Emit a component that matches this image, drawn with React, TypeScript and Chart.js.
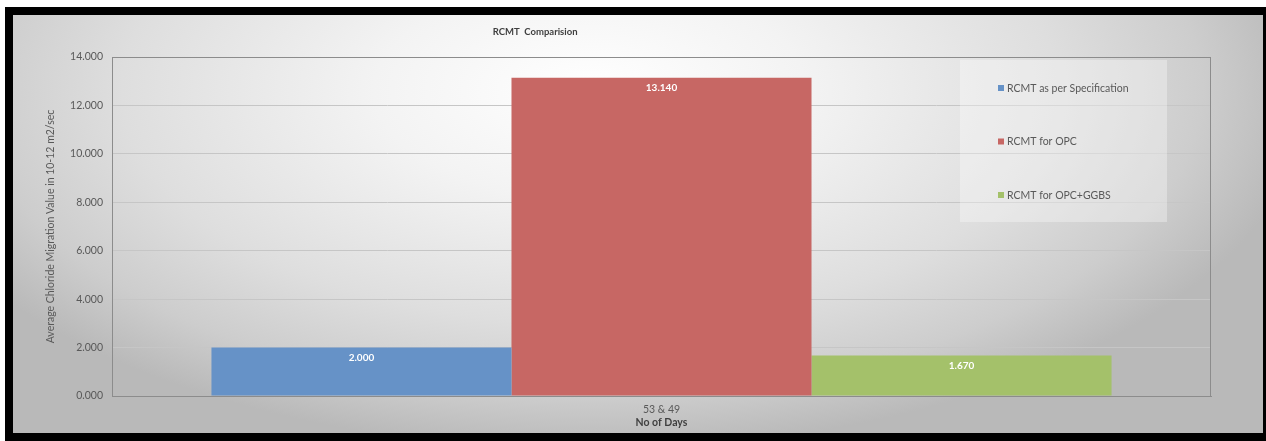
import React, { useEffect, useRef } from "react";
import { Chart, registerables } from "chart.js";

Chart.register(...registerables);

// Chart content
const chartTitle = "RCMT  Comparision";
const categories = ["53 & 49"];
const seriesNames = ["RCMT as per Specification", "RCMT for OPC", "RCMT for OPC+GGBS"];
const specValues = [2.0];
const opcValues = [13.14];
const opcGgbsValues = [1.67];
const seriesColors = ["#6692c7", "#c76764", "#a4c16a"];
const yTitle = "Average Chloride Migration Value in 10-12 m2/sec";
const xTitle = "No of Days";
const yMin = 0;
const yMax = 14;
const yStep = 2;

const FONT = "Lato, 'Open Sans', sans-serif";
const TEXT_GRAY = "#595959";
const DARK_TEXT = "#3f3f3f";
const AXIS_GRAY = "#8c8c8c";
const GRID_GRAY = "#c6c6c6";

const W = 1266;
const H = 441;

// Frame, gradient backdrop, plot border and title
const backdropPlugin = {
  id: "backdrop",
  beforeDraw(chart: any) {
    const { ctx } = chart;
    ctx.save();
    ctx.fillStyle = "#ffffff";
    ctx.fillRect(0, 0, W, H);
    ctx.fillStyle = "#000000";
    ctx.fillRect(5, 7, W - 5, H - 7);

    const ix = 13, iy = 15, iw = 1250, ih = 418;
    ctx.beginPath();
    ctx.rect(ix, iy, iw, ih);
    ctx.clip();
    ctx.translate(590, 90);
    ctx.scale(1, 0.5);
    const g = ctx.createRadialGradient(0, 0, 0, 0, 0, 720);
    g.addColorStop(0, "#ffffff");
    g.addColorStop(0.3, "#f3f3f3");
    g.addColorStop(0.65, "#dedede");
    g.addColorStop(0.85, "#cdcdcd");
    g.addColorStop(1, "#b9b9b9");
    ctx.fillStyle = g;
    ctx.fillRect(-700, -900, 1400, 1800);
    ctx.restore();

    // title
    const a = chart.chartArea;
    ctx.save();
    ctx.fillStyle = DARK_TEXT;
    ctx.font = `bold 9.5px ${FONT}`;
    ctx.textAlign = "center";
    ctx.textBaseline = "middle";
    ctx.fillText(chartTitle, a.left + (a.right - a.left) * 0.385, a.top - 25);
    ctx.restore();
  },
  beforeDatasetsDraw(chart: any) {
    const { ctx, chartArea: a } = chart;
    ctx.save();
    // legend panel
    ctx.fillStyle = "rgba(255,255,255,0.32)";
    ctx.fillRect(a.right - 251, a.top + 3, 207, 162);
    // plot border
    ctx.strokeStyle = AXIS_GRAY;
    ctx.lineWidth = 1;
    ctx.strokeRect(Math.round(a.left) + 0.5, Math.round(a.top) + 0.5, Math.round(a.right - a.left) - 1, Math.round(a.bottom - a.top));
    ctx.restore();
  },
  afterDatasetsDraw(chart: any) {
    const { ctx, chartArea: a } = chart;
    ctx.save();
    // value labels inside the bars
    ctx.fillStyle = "#ffffff";
    ctx.font = `bold 10px ${FONT}`;
    ctx.textAlign = "center";
    ctx.textBaseline = "middle";
    chart.data.datasets.forEach((ds: any, i: number) => {
      const meta = chart.getDatasetMeta(i);
      meta.data.forEach((el: any, j: number) => {
        const v = ds.data[j] as number;
        ctx.fillText(v.toFixed(3), el.x, el.y + 10);
      });
    });

    // legend
    ctx.font = `10.5px ${FONT}`;
    ctx.textAlign = "left";
    chart.data.datasets.forEach((ds: any, i: number) => {
      const y = a.top + 31 + i * 53.5;
      const x = a.right - 213;
      ctx.fillStyle = ds.backgroundColor;
      ctx.fillRect(x, y - 3, 6, 6);
      ctx.fillStyle = TEXT_GRAY;
      ctx.fillText(ds.label, x + 9, y + 0.5);
    });
    ctx.restore();
  },
};

export default function App() {
  const ref = useRef<HTMLCanvasElement | null>(null);

  useEffect(() => {
    document.body.style.margin = "0";
    const canvas = ref.current;
    if (!canvas) return;
    const chart = new Chart(canvas, {
      type: "bar",
      data: {
        labels: categories,
        datasets: [
          { label: seriesNames[0], data: specValues, backgroundColor: seriesColors[0] },
          { label: seriesNames[1], data: opcValues, backgroundColor: seriesColors[1] },
          { label: seriesNames[2], data: opcGgbsValues, backgroundColor: seriesColors[2] },
        ],
      },
      options: {
        animation: false,
        responsive: false,
        maintainAspectRatio: false,
        devicePixelRatio: 1,
        layout: { padding: { left: 13, top: 57, right: 55, bottom: 12 } },
        datasets: {
          bar: { categoryPercentage: 0.819, barPercentage: 1, borderWidth: 0 },
        },
        plugins: {
          legend: { display: false },
          title: { display: false },
          tooltip: { enabled: false },
        },
        scales: {
          x: {
            grid: { display: false, drawTicks: false },
            border: { display: true, color: AXIS_GRAY },
            ticks: { color: TEXT_GRAY, font: { family: FONT, size: 10.5 }, padding: 7 },
            title: {
              display: true,
              text: xTitle,
              color: DARK_TEXT,
              font: { family: FONT, size: 10.5, weight: "bold" },
              padding: { top: 0, bottom: 0 },
            },
            afterFit(scale: any) {
              scale.height = 33;
            },
          },
          y: {
            min: yMin,
            max: yMax,
            grid: { color: GRID_GRAY, drawTicks: false },
            border: { display: true, color: AXIS_GRAY },
            ticks: {
              stepSize: yStep,
              color: TEXT_GRAY,
              font: { family: FONT, size: 10.5 },
              padding: 9,
              callback: (v: any) => Number(v).toFixed(3),
            },
            title: {
              display: true,
              text: yTitle,
              color: TEXT_GRAY,
              font: { family: FONT, size: 10.5 },
              padding: { top: 31, bottom: 0 },
            },
            afterFit(scale: any) {
              scale.width = 99;
            },
          },
        },
      },
      plugins: [backdropPlugin],
    });
    return () => chart.destroy();
  }, []);

  return (
    <div style={{ width: W, height: H, position: "relative" }}>
      <canvas ref={ref} width={W} height={H} style={{ width: W, height: H, display: "block" }} />
    </div>
  );
}
